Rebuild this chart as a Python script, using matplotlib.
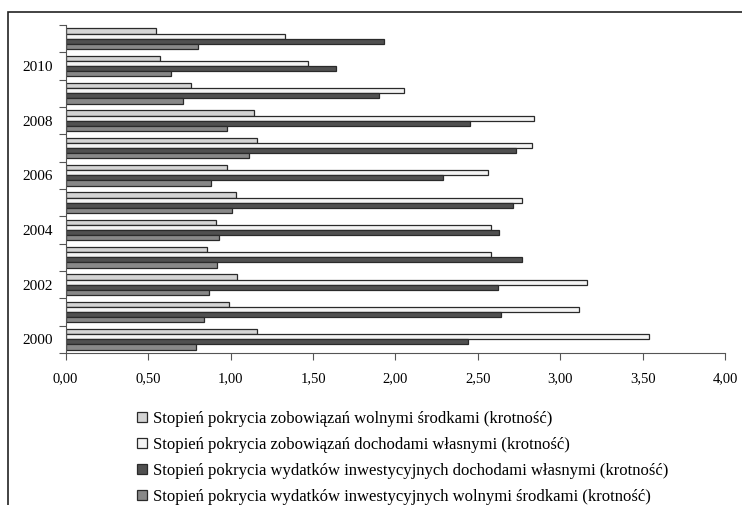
import numpy as np
import matplotlib
matplotlib.use('Agg')
import matplotlib.pyplot as plt
from matplotlib.patches import Rectangle

plt.rcParams['font.family'] = ['Liberation Serif', 'DejaVu Serif']

years = [2000, 2001, 2002, 2003, 2004, 2005, 2006, 2007, 2008, 2009, 2010, 2011]
year_labels = ['2000', '', '2002', '', '2004', '', '2006', '', '2008', '', '2010', '']

zob_wolne = [1.16, 0.99, 1.04, 0.86, 0.91, 1.03, 0.98, 1.16, 1.14, 0.76, 0.57, 0.55]
zob_dochody = [3.54, 3.11, 3.16, 2.58, 2.58, 2.77, 2.56, 2.83, 2.84, 2.05, 1.47, 1.33]
inw_dochody = [2.44, 2.64, 2.62, 2.77, 2.63, 2.71, 2.29, 2.73, 2.45, 1.90, 1.64, 1.93]
inw_wolne = [0.79, 0.84, 0.87, 0.92, 0.93, 1.01, 0.88, 1.11, 0.98, 0.71, 0.64, 0.80]

series = [
    ('Stopień pokrycia zobowiązań wolnymi środkami (krotność)', zob_wolne, '#d4d4d4'),
    ('Stopień pokrycia zobowiązań dochodami własnymi (krotność)', zob_dochody, '#f4f4f4'),
    ('Stopień pokrycia wydatków inwestycyjnych dochodami własnymi (krotność)', inw_dochody, '#505050'),
    ('Stopień pokrycia wydatków inwestycyjnych wolnymi środkami (krotność)', inw_wolne, '#888888'),
]
xticks = [0, 0.5, 1.0, 1.5, 2.0, 2.5, 3.0, 3.5, 4.0]

fig = plt.figure(figsize=(7.42, 5.05), dpi=100)
ax = fig.add_axes([0.0885, 0.301, 0.889, 0.6495])

y = np.arange(len(years))
h = 0.1875
for i, (name, vals, col) in enumerate(series):
    ax.barh(y + (1.5 - i) * h, vals, height=h, color=col, edgecolor='#2a2a2a',
            linewidth=0.9, label=name)

ax.set_xlim(0, 4)
ax.set_ylim(-0.5, len(years) - 0.5)
ax.set_xticks(xticks)
ax.set_xticklabels([('%.2f' % v).replace('.', ',') for v in xticks], fontsize=10.5)
ax.set_yticks(np.arange(len(years) + 1) - 0.5)
ax.set_yticklabels([])
ax.set_yticks(y, minor=True)
ax.set_yticklabels(year_labels, minor=True, fontsize=11)
ax.tick_params(axis='y', which='major', length=5, color='#555555')
ax.tick_params(axis='y', which='minor', length=0, pad=9)
ax.tick_params(axis='x', length=5, color='#555555', pad=9)
for s in ['top', 'right']:
    ax.spines[s].set_visible(False)
for s in ['left', 'bottom']:
    ax.spines[s].set_color('#555555')

fig.legend(loc='upper left', bbox_to_anchor=(0.176, 0.2), ncol=1, frameon=False,
           fontsize=12, handlelength=0.6, handleheight=0.6, handletextpad=0.35,
           labelspacing=0.6, borderaxespad=0)

fig.patches.append(Rectangle((8 / 742, -0.1), 1.2, 1 - 12 / 505 + 0.1,
                             transform=fig.transFigure, fill=False,
                             edgecolor='#222222', linewidth=1.2))

fig.savefig('out.png', dpi=100)
